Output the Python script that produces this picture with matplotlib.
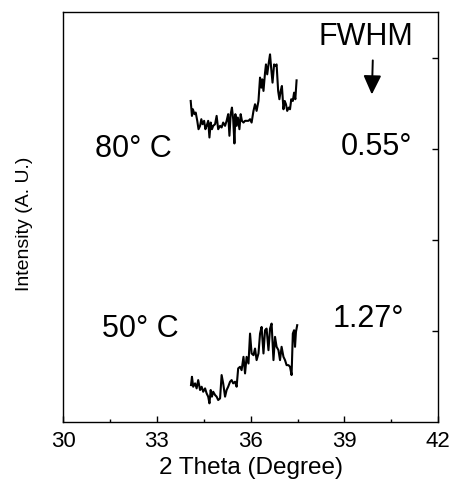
import matplotlib
matplotlib.use("Agg")
import matplotlib.pyplot as plt
from matplotlib.ticker import MultipleLocator, FixedLocator

plt.rcParams["font.family"] = ["Liberation Sans", "DejaVu Sans"]

# 2-theta scan, sample annealed at 80 C (offset upward)
theta_80 = [34.08, 34.12, 34.15, 34.20, 34.24, 34.29, 34.33, 34.38, 34.42, 34.46,
            34.51, 34.55, 34.59, 34.64, 34.68, 34.72, 34.76, 34.80, 34.86, 34.91,
            34.96, 35.02, 35.07, 35.12, 35.18, 35.23, 35.28, 35.32, 35.36, 35.40,
            35.44, 35.48, 35.51, 35.55, 35.59, 35.64, 35.68, 35.72, 35.77, 35.82,
            35.87, 35.93, 35.98, 36.03, 36.09, 36.14, 36.19, 36.25, 36.30, 36.34,
            36.37, 36.41, 36.46, 36.49, 36.53, 36.58, 36.62, 36.66, 36.70, 36.75,
            36.79, 36.83, 36.88, 36.92, 36.96, 37.00, 37.05, 37.09, 37.13, 37.17,
            37.22, 37.26, 37.30, 37.35, 37.39, 37.43, 37.47]
intensity_80 = [3.525, 3.361, 3.434, 3.380, 3.398, 3.307, 3.215, 3.252, 3.325, 3.270,
                3.307, 3.215, 3.252, 3.307, 3.124, 3.288, 3.215, 3.252, 3.270, 3.361,
                3.215, 3.252, 3.234, 3.288, 3.252, 3.307, 3.380, 3.143, 3.380, 3.452,
                3.325, 3.059, 3.380, 3.252, 3.343, 3.215, 3.380, 3.307, 3.288, 3.307,
                3.307, 3.307, 3.325, 3.288, 3.416, 3.489, 3.416, 3.525, 3.781, 3.671,
                3.762, 3.635, 3.835, 3.926, 3.817, 3.945, 4.036, 3.872, 3.726, 3.926,
                3.908, 3.926, 3.635, 3.544, 3.635, 3.689, 3.434, 3.525, 3.489, 3.416,
                3.452, 3.434, 3.544, 3.525, 3.616, 3.544, 3.751]

# 2-theta scan, sample annealed at 50 C
theta_50 = [34.09, 34.12, 34.16, 34.22, 34.27, 34.32, 34.38, 34.43, 34.48, 34.54,
            34.59, 34.64, 34.68, 34.72, 34.76, 34.80, 34.86, 34.91, 34.96, 35.02,
            35.07, 35.12, 35.18, 35.23, 35.28, 35.34, 35.39, 35.44, 35.50, 35.55,
            35.60, 35.66, 35.71, 35.77, 35.82, 35.87, 35.93, 35.98, 36.03, 36.09,
            36.14, 36.19, 36.25, 36.30, 36.35, 36.41, 36.46, 36.51, 36.57, 36.62,
            36.67, 36.73, 36.78, 36.83, 36.89, 36.94, 36.99, 37.05, 37.10, 37.15,
            37.21, 37.26, 37.31, 37.35, 37.39, 37.42, 37.45, 37.49]
intensity_50 = [0.408, 0.499, 0.390, 0.427, 0.372, 0.463, 0.354, 0.390, 0.335, 0.372,
                0.317, 0.281, 0.208, 0.354, 0.281, 0.335, 0.299, 0.281, 0.244, 0.262,
                0.518, 0.427, 0.281, 0.354, 0.390, 0.445, 0.463, 0.427, 0.445, 0.390,
                0.591, 0.609, 0.572, 0.718, 0.536, 0.718, 0.645, 0.973, 0.755, 0.736,
                0.809, 0.682, 0.755, 0.973, 1.046, 0.755, 1.010, 1.028, 0.791, 1.028,
                1.083, 0.682, 0.937, 0.828, 0.791, 0.682, 0.828, 0.718, 0.682, 0.627,
                0.627, 0.609, 0.518, 0.973, 1.010, 0.828, 0.992, 1.065]

sample_labels = ["80° C", "50° C"]
fwhm_labels = ["0.55°", "1.27°"]
x_ticks = [30, 33, 36, 39, 42]

fig = plt.figure(figsize=(4.53, 4.83), dpi=100)
ax = fig.add_axes([0.1397, 0.1257, 0.8273, 0.8493])

ax.plot(theta_80, intensity_80, color="black", lw=1.5)
ax.plot(theta_50, intensity_50, color="black", lw=1.5)

ax.set_xlim(30, 42)
ax.set_ylim(0, 4.5)
ax.xaxis.set_major_locator(FixedLocator(x_ticks))
ax.xaxis.set_minor_locator(MultipleLocator(1.5))
ax.set_xticklabels([str(t) for t in x_ticks])

ax.yaxis.set_major_locator(FixedLocator([1, 2, 3, 4]))
ax.tick_params(axis="x", which="major", direction="in", length=4.3, width=1.0,
               labelsize=16, pad=6, top=False)
ax.tick_params(axis="x", which="minor", direction="in", length=2, width=1.0,
               top=False)
ax.tick_params(axis="y", which="both", direction="in", length=4.3, width=1.0,
               left=False, right=True, labelleft=False, labelright=False)
for s in ax.spines.values():
    s.set_linewidth(1.0)

ax.set_xlabel("2 Theta (Degree)", fontsize=17.5)
ax.xaxis.set_label_coords(0.5, -0.085)
ax.set_ylabel("Intensity (A. U.)", fontsize=14)
ax.yaxis.set_label_coords(-0.081, 0.485)

txt = dict(fontsize=22, ha="center", va="baseline")
ax.text(32.25, 2.912, sample_labels[0], **txt)
ax.text(32.48, 0.939, sample_labels[1], **txt)
ax.text(40.04, 2.93, fwhm_labels[0], **txt)
ax.text(39.77, 1.048, fwhm_labels[1], **txt)
ax.text(39.69, 4.137, "FWHM", **txt)

ax.annotate("", xy=(39.88, 3.596), xytext=(39.91, 3.97),
            arrowprops=dict(arrowstyle="-|>,head_length=1.15,head_width=0.54",
                            color="black", lw=1.4, shrinkA=0, shrinkB=0))

fig.savefig("out.png", dpi=100)
